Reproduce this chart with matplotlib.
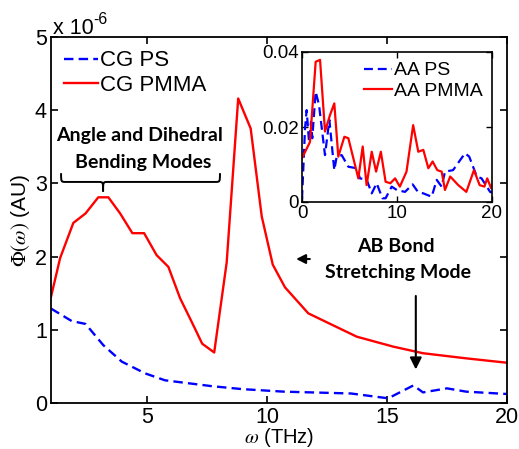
import numpy as np
import matplotlib
matplotlib.use("Agg")
import matplotlib.pyplot as plt
from matplotlib.path import Path
from matplotlib.patches import PathPatch

plt.rcParams['font.family'] = ['Liberation Sans', 'DejaVu Sans']
plt.rcParams['mathtext.fontset'] = 'stix'

# Coarse-grained spectra (units of 1e-6)
cg_pmma_w = [1.0, 1.38, 1.93, 2.44, 2.97, 3.39, 3.88, 4.39, 4.88, 5.40, 5.89, 6.38,
             6.86, 7.30, 7.80, 8.32, 8.80, 9.32, 9.78, 10.24, 10.75, 11.72, 12.7,
             13.74, 15.26, 16.5, 18.3, 20.0]
cg_pmma_phi = [1.45, 1.98, 2.46, 2.59, 2.81, 2.81, 2.59, 2.32, 2.32, 2.02, 1.86, 1.43,
               1.11, 0.81, 0.69, 1.92, 4.16, 3.75, 2.55, 1.89, 1.58, 1.225, 1.07,
               0.906, 0.77, 0.68, 0.61, 0.55]
cg_ps_w = [1.0, 1.86, 2.44, 3.18, 3.95, 4.92, 5.75, 6.72, 7.7, 8.95, 10.7, 13.5,
           15.05, 16.1, 16.5, 17.5, 18.3, 20.0]
cg_ps_phi = [1.29, 1.12, 1.08, 0.79, 0.565, 0.405, 0.31, 0.27, 0.23, 0.19, 0.155,
             0.13, 0.064, 0.24, 0.145, 0.2, 0.155, 0.123]

# All-atom spectra (inset)
aa_pmma_w = [0.0, 0.84, 1.44, 1.9, 2.42, 2.95, 3.4, 3.82, 4.46, 4.88, 5.93, 6.39,
             6.8, 7.34, 7.8, 8.3, 8.8, 9.3, 9.8, 10.3, 11.0, 11.7, 12.24, 12.77,
             13.3, 13.75, 14.24, 14.7, 15.05, 15.6, 16.45, 17.3, 18.1, 18.7, 19.2,
             19.5, 19.9, 20.0]
aa_pmma_phi = [0.0117, 0.016, 0.0374, 0.0379, 0.0188, 0.0232, 0.0263, 0.0121,
               0.0174, 0.017, 0.0063, 0.0148, 0.0045, 0.0134, 0.0081, 0.0134,
               0.0054, 0.005, 0.0063, 0.0041, 0.0081, 0.0205, 0.0134, 0.0139,
               0.009, 0.0108, 0.0085, 0.0081, 0.0032, 0.0068, 0.0045, 0.0027,
               0.0085, 0.0045, 0.0041, 0.0063, 0.0037, 0.0045]
aa_ps_w = [0.0, 0.32, 0.49, 0.74, 0.95, 1.08, 1.44, 1.79, 2.42, 2.88, 3.4, 3.65,
           4.18, 4.88, 5.75, 6.1, 6.8, 7.34, 7.86, 8.46, 8.8, 9.44, 9.98, 10.84,
           11.65, 12.2, 12.77, 13.65, 14.18, 14.7, 15.05, 15.9, 17.16, 17.6, 18.4,
           18.9, 19.8, 20.0]
aa_ps_phi = [0.0008, 0.0197, 0.0245, 0.016, 0.0214, 0.017, 0.0294, 0.0259, 0.0125,
             0.0219, 0.0085, 0.0121, 0.0125, 0.0094, 0.009, 0.0063, 0.006, 0.0023,
             0.005, 0.001, 0.001, 0.0041, 0.0032, 0.0027, 0.0047, 0.0027, 0.0023,
             0.0014, 0.0059, 0.0041, 0.0081, 0.0085, 0.013, 0.0121, 0.0068, 0.0063,
             0.0027, 0.0025]

main_xticks = [5, 10, 15, 20]
main_yticks = [0, 1, 2, 3, 4, 5]
inset_xticks = [0, 10, 20]
inset_yticks = [0, 0.02, 0.04]
inset_yticklabels = ['0', '0.02', '0.04']

W, H = 519, 449
fig = plt.figure(figsize=(W / 100, H / 100), dpi=100)
ax = fig.add_axes([51 / W, 1 - 403 / H, 456 / W, 366 / H])

dash = (0, (4, 2.2))
ax.plot(cg_ps_w, cg_ps_phi, color='#0000ff', lw=1.7, linestyle=dash, label='CG PS')
ax.plot(cg_pmma_w, cg_pmma_phi, color='#ff0000', lw=1.7, label='CG PMMA')
ax.set_xlim(1, 20)
ax.set_ylim(0, 5)
ax.set_xticks(main_xticks)
ax.set_yticks(main_yticks)
ax.tick_params(direction='in', top=True, right=True, labelsize=15.5, length=5,
               width=1.2, pad=3)
for s in ax.spines.values():
    s.set_linewidth(1.3)
ax.set_xlabel(r'$\omega$ (THz)', fontsize=14.5, labelpad=-1.5)
ax.set_ylabel(r'$\Phi(\omega)$ (AU)', fontsize=15, labelpad=2)

leg = ax.legend(loc='upper left', frameon=False, fontsize=16, handlelength=1.5,
                handletextpad=0.1, borderaxespad=0.2, labelspacing=0.15,
                bbox_to_anchor=(0.0, 1.0))

# exponent label
fig.text(53 / W, 1 - 28 / H, 'x 10', fontsize=15.5, ha='left', va='center')
fig.text(93 / W, 1 - 19 / H, '-6', fontsize=11.5, ha='left', va='center')

bold = dict(family=['Lato', 'DejaVu Sans'], fontweight='bold', fontsize=14,
            ha='center', va='center')
ax.text(4.71, 3.65, 'Angle and Dihedral', **bold)
ax.text(4.83, 3.28, 'Bending Modes', **bold)
ax.text(15.37, 2.14, 'AB Bond', **bold)
ax.text(15.45, 1.78, 'Stretching Mode', **bold)

# curly brace over the bending band
x0, xt, x1 = 1.42, 3.17, 8.04
yb, yh, ytip = 3.02, 3.14, 2.89
dx = 0.2
verts = [(x0, yh), (x0, yb), (x0, yb), (x0 + dx, yb),
         (xt - dx, yb),
         (xt, yb), (xt, yb), (xt, ytip),
         (xt, yb), (xt, yb), (xt + dx, yb),
         (x1 - dx, yb),
         (x1, yb), (x1, yb), (x1, yh)]
codes = [Path.MOVETO, Path.CURVE4, Path.CURVE4, Path.CURVE4,
         Path.LINETO,
         Path.CURVE4, Path.CURVE4, Path.CURVE4,
         Path.CURVE4, Path.CURVE4, Path.CURVE4,
         Path.LINETO,
         Path.CURVE4, Path.CURVE4, Path.CURVE4]
ax.add_patch(PathPatch(Path(verts, codes), fill=False, lw=1.4, color='black'))

# arrows
ax.annotate('', xy=(11.1, 1.967), xytext=(11.9, 1.967),
            arrowprops=dict(arrowstyle='-|>,head_length=0.55,head_width=0.28',
                            color='black', lw=1.5))
ax.annotate('', xy=(16.2, 0.42), xytext=(16.2, 1.50),
            arrowprops=dict(arrowstyle='-|>,head_length=0.7,head_width=0.35',
                            color='black', lw=1.5))

# inset: all-atom spectra
ins = fig.add_axes([302 / W, 1 - 202 / H, 190 / W, 150 / H])
ins.plot(aa_ps_w, aa_ps_phi, color='#0000ff', lw=1.6, linestyle=dash, label='AA PS')
ins.plot(aa_pmma_w, aa_pmma_phi, color='#ff0000', lw=1.6, label='AA PMMA')
ins.set_xlim(0, 20)
ins.set_ylim(0, 0.04)
ins.set_xticks(inset_xticks)
ins.set_yticks(inset_yticks)
ins.set_yticklabels(inset_yticklabels)
ins.tick_params(direction='in', top=True, right=True, labelsize=13.5, length=4,
                width=1.0, pad=2)
for s in ins.spines.values():
    s.set_linewidth(1.2)
ins.legend(loc='upper right', frameon=False, fontsize=14, handlelength=1.4,
           handletextpad=0.1, borderaxespad=0.1, labelspacing=0.15)

fig.savefig('out.png', dpi=100)
